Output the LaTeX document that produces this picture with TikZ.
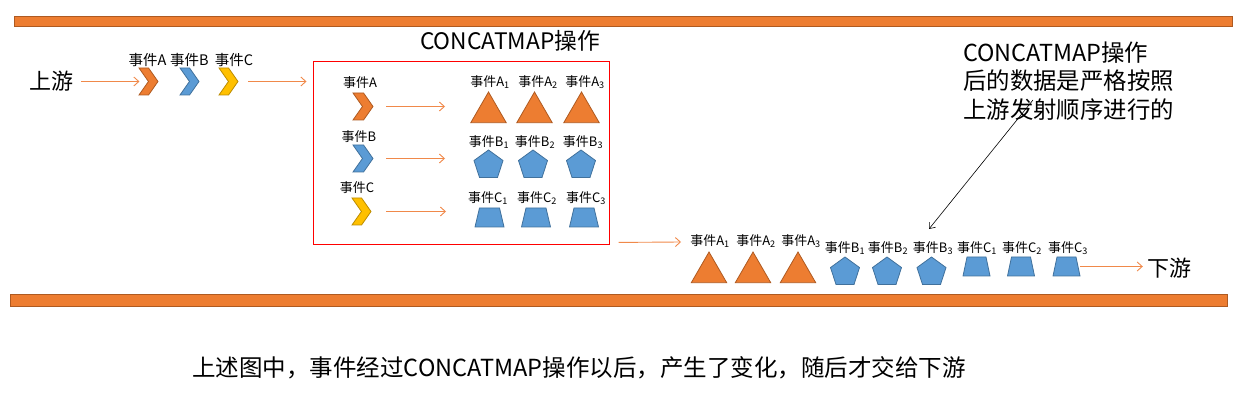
\documentclass[tikz,border=0pt]{standalone}
\usepackage{fontspec}
\setmainfont{Noto Sans CJK SC}
\usetikzlibrary{shapes.geometric,shapes.symbols,arrows.meta}
\definecolor{orf}{HTML}{ED7D31}
\definecolor{ord}{HTML}{AE5A21}
\definecolor{blf}{HTML}{5B9BD5}
\definecolor{bld}{HTML}{41719C}
\definecolor{yef}{HTML}{FFC000}
\definecolor{yed}{HTML}{BC8C00}
\definecolor{arrc}{HTML}{F0894A}
\begin{document}
\begin{tikzpicture}[x=1pt,y=-1pt,
  big/.style={inner sep=1pt,font=\fontsize{22}{28.5}\selectfont},
  note/.style={inner sep=1pt,font=\fontsize{23.4}{28.5}\selectfont},
  titletext/.style={inner sep=1pt,font=\fontsize{22.75}{26}\selectfont},
  captext/.style={inner sep=1pt,font=\fontsize{23.5}{26}\selectfont},
  labtop/.style={inner sep=0.5pt,font=\fontsize{14.5}{16}\selectfont},
  lab/.style={inner sep=0.5pt,font=\fontsize{13}{15}\selectfont},
  chev/.style={shape=signal, signal from=west, signal to=east, signal pointer angle=110,
    minimum width=19pt, minimum height=27pt, inner sep=0pt, outer sep=0pt, line width=0.8pt},
  tri/.style={regular polygon, regular polygon sides=3, minimum size=41pt, inner sep=0pt,
    outer sep=0pt, fill=orf, draw=ord, line width=0.8pt},
  pent/.style={regular polygon, regular polygon sides=5, minimum size=30.5pt, inner sep=0pt,
    outer sep=0pt, fill=blf, draw=bld, line width=0.8pt},
  trapbox/.style={rectangle, minimum width=29pt, minimum height=19pt, inner sep=0pt, outer sep=0pt},
  trapfill/.style={fill=blf, draw=bld, line width=0.8pt},
  bar/.style={fill=orf, draw=ord, line width=1pt},
  arr/.style={draw=arrc, line width=0.9pt, -{Straight Barb[length=5pt,width=9pt]}},
  ptr/.style={draw=black, line width=0.6pt, -{Straight Barb[length=5pt,width=8pt]}}
]
\useasboundingbox (0,0) rectangle (1241,411);

% bars
\path[bar] (14,17) rectangle (1232,27);
\path[bar] (10,295) rectangle (1227,307);

% upstream
\node[big] (up) at (51,81.5) {上游};
\node[chev, fill=orf, draw=ord] (chA) at (148.5,81.5) {};
\node[chev, fill=blf, draw=bld] (chB) at (189.5,81.5) {};
\node[chev, fill=yef, draw=yed] (chC) at (228.5,81.5) {};
\node[labtop] (lA) at (147.5,60) {事件A};
\node[labtop] (lB) at (189.5,60) {事件B};
\node[labtop] (lC) at (234,60) {事件C};

% box
\node[draw=red, line width=1pt, minimum width=296pt, minimum height=183pt, inner sep=0pt] (box) at (461,153.5) {};
\node[titletext] (title) at (510,41) {CONCATMAP操作};

\draw[arr, shorten <=7pt, shorten >=9pt] (up.east |- chA.west) -- (chA.west);
\draw[arr, shorten <=10pt, shorten >=6pt] (chC.east) -- (chC.east -| box.west);

% inside box
\node[chev, fill=orf, draw=ord, minimum width=20pt] (iA) at (363,106.5) {};
\node[chev, fill=blf, draw=bld, minimum width=20pt] (iB) at (363,158.5) {};
\node[chev, fill=yef, draw=yed] (iC) at (361.5,211.5) {};
\node[lab] (liA) at (360,83) {事件A};
\node[lab] (liB) at (359,137) {事件B};
\node[lab] (liC) at (357,188) {事件C};

\foreach \x/\lx/\i in {488.5/490/1,534.5/538/2,581.5/585/3}{
  \node[tri] (a\i) at (\x,112.5) {};
  \node[lab] (la\i) at (\lx,82) {事件A\textsubscript{\i}};
}
\foreach \x/\lx/\i in {488.5/489/1,533/535/2,581/583/3}{
  \node[pent] (b\i) at (\x,165.25) {};
  \node[lab] (lb\i) at (\lx,142) {事件B\textsubscript{\i}};
}
\foreach \x/\lx/\i in {489.5/488/1,536/537/2,584/586/3}{
  \node[trapbox] (c\i) at (\x,217.5) {};
  \path[trapfill] (c\i.south west) -- (c\i.south east) -- ([xshift=-4.5pt]c\i.north east)
    -- ([xshift=4.5pt]c\i.north west) -- cycle;
  \node[lab] (lc\i) at (\lx,198) {事件C\textsubscript{\i}};
}
\coordinate (eA) at (445,106.5);
\coordinate (eB) at (445,158.5);
\coordinate (eC) at (446,211.5);
\draw[arr, shorten <=13pt] (iA.east) -- (eA);
\draw[arr, shorten <=13pt] (iB.east) -- (eB);
\draw[arr, shorten <=15pt] (iC.east) -- (eC);

% output
\coordinate (oe) at (681,242);
\draw[arr, shorten <=9pt] ([yshift=3pt]box.south east) -- (oe);

\foreach \x/\lx/\i in {709/710/1,753/756/2,798/801/3}{
  \node[tri] (oa\i) at (\x,272.5) {};
  \node[lab] (loa\i) at (\lx,241) {事件A\textsubscript{\i}};
}
\foreach \x/\lx/\i in {845/845/1,887/888/2,931.5/933/3}{
  \node[pent] (ob\i) at (\x,272.25) {};
  \node[lab] (lob\i) at (\lx,248) {事件B\textsubscript{\i}};
}
\foreach \x/\lx/\i in {976.5/977/1,1021/1022/2,1066.5/1068/3}{
  \node[trapbox, minimum width=27pt] (oc\i) at (\x,266.5) {};
  \path[trapfill] (oc\i.south west) -- (oc\i.south east) -- ([xshift=-4pt]oc\i.north east)
    -- ([xshift=4pt]oc\i.north west) -- cycle;
  \node[lab] (loc\i) at (\lx,248) {事件C\textsubscript{\i}};
}
\node[big] (down) at (1169,268) {下游};
\draw[arr, shorten >=3pt] (oc3.east) -- (oc3.east -| down.west);

% annotation
\node[note, anchor=north west, align=left] (notebox) at (962,40.5)
  {CONCATMAP操作\\后的数据是严格按照\\上游发射顺序进行的};
\coordinate (nstart) at (1033,100);
\coordinate (ntip) at (929,229);
\draw[ptr] (nstart) -- (ntip);

% caption
\node[captext] (caption) at (579,368) {上述图中，事件经过CONCATMAP操作以后，产生了变化，随后才交给下游};
\end{tikzpicture}
\end{document}
